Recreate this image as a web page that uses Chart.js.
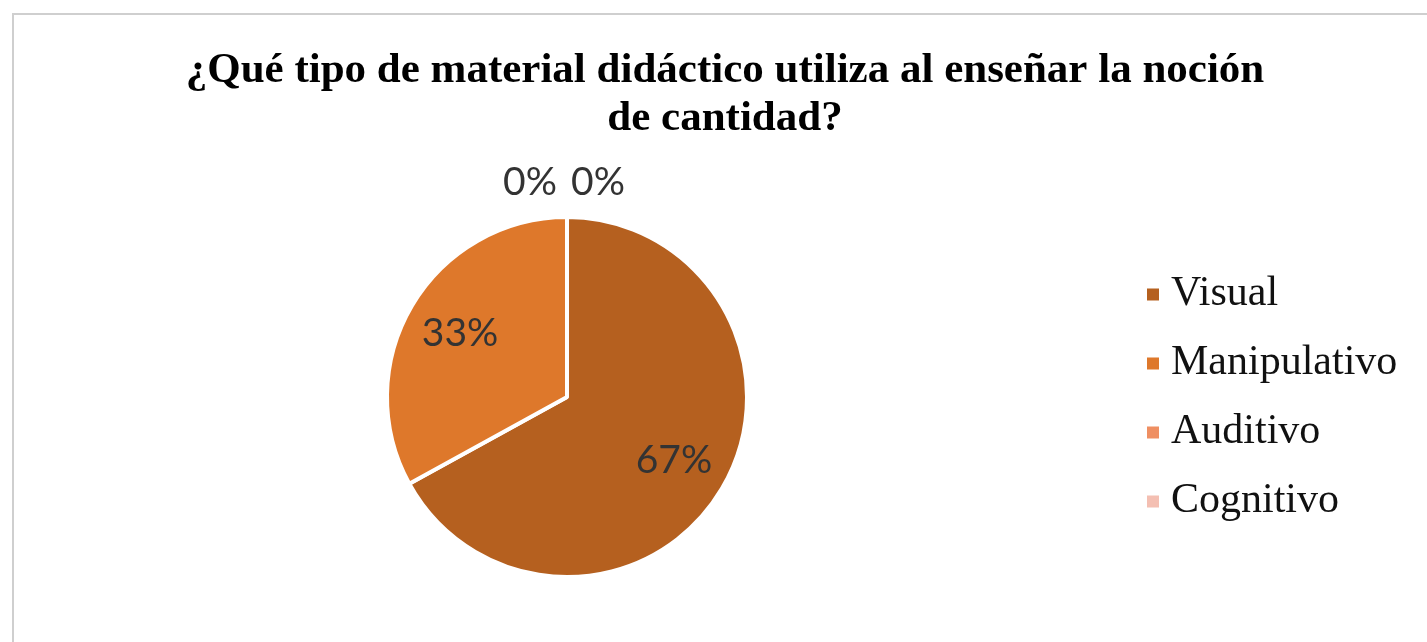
<!DOCTYPE html>
<html>
<head>
<meta charset="utf-8">
<script src="https://cdn.jsdelivr.net/npm/chart.js@4.4.1/dist/chart.umd.min.js"></script>
<style>
    html, body { margin: 0; padding: 0; background: #fff; overflow: hidden; }
    #box {
        position: absolute; left: 12px; top: 13px;
        width: 1424px; height: 640px;
        border-left: 2px solid #cfcfcf; border-top: 2px solid #cfcfcf;
    }
    #chart { display: block; }
</style>
</head>
<body>
<div id="box"><canvas id="chart" width="1424" height="627"></canvas></div>
<script>
var titleLines = ['¿Qué tipo de material didáctico utiliza al enseñar la noción', 'de cantidad?'];
var categories = ['Visual', 'Manipulativo', 'Auditivo', 'Cognitivo'];
var percentages = [67, 33, 0, 0];
var sliceColors = ['#b5601f', '#de782b', '#ef8f62', '#f4bfb2'];

// the title is centred on the whole box, not on the pie, so it is drawn here
var boxTitle = {
    id: 'boxTitle',
    afterDraw: function(chart) {
        var ctx = chart.ctx;
        ctx.save();
        ctx.font = 'bold 43px "Liberation Serif"';
        ctx.fillStyle = '#000';
        ctx.textAlign = 'center';
        ctx.textBaseline = 'middle';
        titleLines.forEach(function(line, i) {
            ctx.fillText(line, 711, 56 + i * 48);
        });
        ctx.restore();
    }
};

// data labels like the office chart: inside for real slices, on top for the 0% ones
var pieLabels = {
    id: 'pieLabels',
    afterDatasetsDraw: function(chart) {
        var ctx = chart.ctx;
        var meta = chart.getDatasetMeta(0);
        var values = chart.data.datasets[0].data;
        var zeros = [];
        ctx.save();
        ctx.font = '39px Lato';
        ctx.fillStyle = '#333';
        ctx.textAlign = 'center';
        ctx.textBaseline = 'middle';
        meta.data.forEach(function(arc, i) {
            if (values[i] === 0) { zeros.push(i); return; }
            var p = arc.getProps(['x', 'y', 'startAngle', 'endAngle', 'outerRadius'], true);
            var mid = (p.startAngle + p.endAngle) / 2;
            var r = p.outerRadius * 0.69;
            ctx.fillText(values[i] + '%', p.x + Math.cos(mid) * r, p.y + Math.sin(mid) * r);
        });
        zeros.forEach(function(i, k) {
            var p = meta.data[i].getProps(['x', 'y', 'outerRadius'], true);
            var x = p.x + (k - (zeros.length - 1) / 2) * 68 - 3;
            ctx.fillText(values[i] + '%', x, p.y - p.outerRadius - 35);
        });
        ctx.restore();
    }
};

// legend on the right, kept apart from the pie like in the original
var sideLegend = {
    id: 'sideLegend',
    afterDraw: function(chart) {
        var ctx = chart.ctx;
        var p = chart.getDatasetMeta(0).data[0].getProps(['y'], true);
        var colors = chart.data.datasets[0].backgroundColor;
        ctx.save();
        ctx.font = '42px "Liberation Serif"';
        ctx.textBaseline = 'middle';
        ctx.textAlign = 'left';
        chart.data.labels.forEach(function(label, i) {
            var y = p.y + (i - 1.5) * 69;
            ctx.fillStyle = colors[i];
            ctx.fillRect(1133, y - 5, 12, 12);
            ctx.fillStyle = '#111';
            ctx.fillText(label, 1157, y);
        });
        ctx.restore();
    }
};

var ctxPie = document.getElementById('chart').getContext('2d');
var myPieChart = new Chart(ctxPie, {
    type: 'pie',
    data: {
        labels: categories,
        datasets: [{
            data: percentages,
            backgroundColor: sliceColors,
            borderColor: '#ffffff',
            borderWidth: 4
        }]
    },
    options: {
        responsive: false,
        animation: false,
        events: [],
        layout: {
            padding: { left: 353, right: 671, top: 200, bottom: 63 }
        },
        plugins: {
            legend: { display: false },
            tooltip: { enabled: false },
            title: { display: false }
        }
    },
    plugins: [boxTitle, pieLabels, sideLegend]
});
</script>
</body>
</html>
